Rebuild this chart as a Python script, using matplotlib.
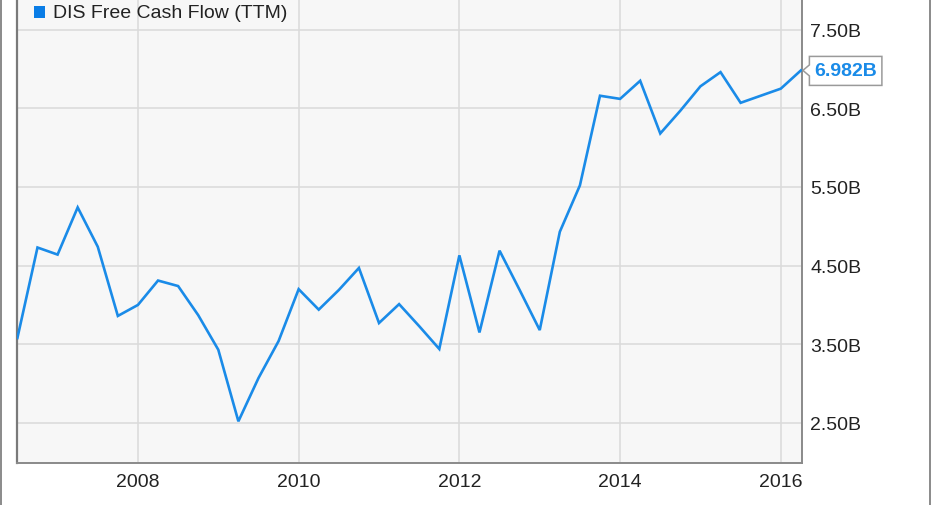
import matplotlib
matplotlib.use("Agg")
import matplotlib.pyplot as plt
import matplotlib.transforms as mtransforms
from matplotlib.patches import Polygon, Rectangle
from matplotlib.lines import Line2D

plt.rcParams['font.family'] = ['Liberation Sans', 'DejaVu Sans']

# Quarterly data (fractional year) and DIS free cash flow TTM in billions
start_year = 2006.5
fcf = [3.58, 4.73, 4.64, 5.24, 4.74, 3.86, 4.00, 4.31, 4.24, 3.87,
       3.43, 2.52, 3.07, 3.54, 4.20, 3.94, 4.19, 4.47, 3.77, 4.01,
       3.73, 3.44, 4.63, 3.65, 4.69, 4.19, 3.68, 4.93, 5.52, 6.66,
       6.62, 6.85, 6.18, 6.47, 6.78, 6.96, 6.57, 6.66, 6.75, 6.982]
dates = [start_year + 0.25 * i for i in range(len(fcf))]

x_ticks = [2008, 2010, 2012, 2014, 2016]
x_labels = ["2008", "2010", "2012", "2014", "2016"]
y_ticks = [2.5, 3.5, 4.5, 5.5, 6.5, 7.5]
y_labels = ["2.50B", "3.50B", "4.50B", "5.50B", "6.50B", "7.50B"]
series_name = "DIS Free Cash Flow (TTM)"
last_label = "6.982B"

W, H = 931, 506
fig = plt.figure(figsize=(W / 100, H / 100), dpi=100)
fig.patch.set_facecolor('white')

L, R, B, T = 16.6, 801.7, 464, 0
ax = fig.add_axes([L / W, 1 - B / H, (R - L) / W, (B - T) / H])
ax.set_facecolor('#f7f7f7')

blue = '#1a8be8'
ax.plot(dates, fcf, color=blue, lw=1.9, solid_joinstyle='miter', zorder=3)

ax.set_xlim(2006.49, 2016.26)
ax.set_ylim(1.99, 7.89)
ax.set_xticks(x_ticks)
ax.set_xticklabels(x_labels)
ax.set_yticks(y_ticks)
ax.set_yticklabels(y_labels)
ax.yaxis.tick_right()
ax.tick_params(axis='both', length=0, labelsize=14, colors='#222222')
ax.tick_params(axis='y', pad=6)
ax.tick_params(axis='x', pad=7)
for lab in ax.get_yticklabels():
    lab.set_horizontalalignment('left')
ax.grid(True, color='#dadada', lw=1.1, zorder=0)
ax.set_axisbelow(True)

ax.spines['top'].set_visible(False)
ax.spines['left'].set_color('#7a7a7a')
ax.spines['left'].set_linewidth(1.6)
ax.spines['bottom'].set_color('#8a8a8a')
ax.spines['bottom'].set_linewidth(1.4)
ax.spines['right'].set_color('#8a8a8a')
ax.spines['right'].set_linewidth(1.4)

# Last value callout
xl, yl = dates[-1], fcf[-1]
px = [(2, 0), (8.5, 5.5), (8.5, 14), (81, 14), (81, -15), (8.5, -15), (8.5, -5.5)]
verts = [(a / 100, b / 100) for a, b in px]
tr = fig.dpi_scale_trans + mtransforms.ScaledTranslation(xl, yl, ax.transData)
poly = Polygon(verts, closed=True, facecolor='white', edgecolor='#9a9a9a',
               lw=1.1, transform=tr, clip_on=False, zorder=5)
ax.add_artist(poly)
ax.annotate(last_label, xy=(xl, yl), xytext=(45 * 0.72, -0.5 * 0.72),
            textcoords='offset points', ha='center', va='center',
            fontsize=14, fontweight='bold', color=blue, zorder=6,
            annotation_clip=False)

# Legend
fig.add_artist(Rectangle((34 / W, 1 - 19 / H), 11 / W, 12 / H,
                         transform=fig.transFigure, facecolor='#0a7de6',
                         edgecolor='none'))
fig.text(53 / W, 1 - 13.5 / H, series_name, fontsize=14, color='#222222',
         ha='left', va='center')

# Outer frame lines
fig.add_artist(Line2D([1 / W, 1 / W], [0, 1], transform=fig.transFigure,
                      color='#8a8a8a', lw=1.4))
fig.add_artist(Line2D([929.5 / W, 929.5 / W], [0, 1], transform=fig.transFigure,
                      color='#8a8a8a', lw=1.4))

fig.savefig('out.png', dpi=100)
